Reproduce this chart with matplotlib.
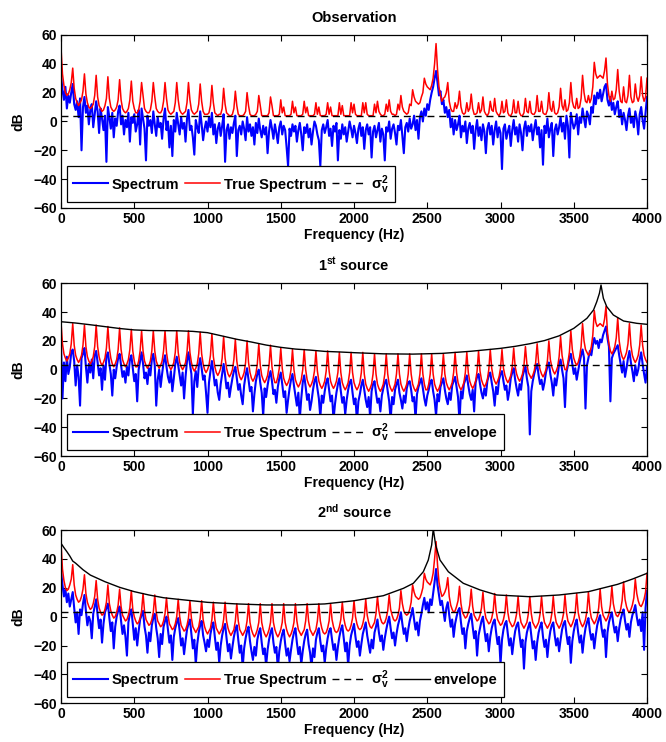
import numpy as np
import matplotlib

matplotlib.use("Agg")
import matplotlib.pyplot as plt

# spectra sampled every 10 Hz from 0 to 4000 Hz (401 bins)
N_BINS = 401
MAX_HZ = 4000
SIGMA_V2_DB = 3.5

obs_spectrum = [
    32, 22, 15, 24, 9, 18, 13, 20, 26, 12, 8, 14, 3, 16, -20, 10, 17, 6, 11, -2,
    8, 12, -4, 5, 14, 7, -8, 9, 2, -6, 4, -28, 10, 3, -5, 6, -11, 2, -3, 7,
    11, -2, 4, -9, 1, -4, 6, -14, 3, -1, 5, -7, -2, 8, -16, 9, 2, -5, -27, 4,
    -3, 1, -8, 7, -2, -10, 3, -4, -1, -12, 2, 9, -6, 0, -18, -3, -24, 1, -7, 6,
    -2, -9, 3, -5, -1, -14, 2, 8, -6, -3, -11, -23, 1, -4, -8, 7, -2, -13, -5, 0,
    -7, 3, -4, 6, -9, -2, -15, -5, -1, -10, -3, 5, -28, -6, -2, -12, -4, -8, -1, 4,
    -24, -6, -3, -9, 0, -5, -13, 3, -7, -2, -10, -4, -16, -1, -8, 2, -6, -11, -3, -9,
    -4, -22, -7, 1, -5, -12, -2, -8, -15, -4, 0, -9, -3, -6, -18, -31, -5, -10, -2, -7,
    -3, -14, -6, -1, -9, -20, -4, -8, -2, -11, -5, -16, -7, 0, -3, -9, -13, -31, -6, -2,
    -8, -4, 1, -10, -5, -17, -3, -7, -1, -27, -6, -12, -2, -9, -4, -14, -7, 0, -5, -11,
    -3, -8, -15, -5, -1, -10, -4, -19, -6, -2, -9, -4, -25, -7, -3, -11, -6, -1, -14, -5,
    -9, -27, -4, -7, 0, -12, -5, -2, -8, -16, -3, -6, 1, -10, -22, -4, -1, -7, 2, -5,
    -2, 4, -6, 1, -12, 3, 7, 0, 9, 4, 12, 8, 15, 20, 24, 30, 35, 27, 18, 21,
    12, 15, 6, 10, 3, 8, -4, 2, -9, 1, -6, -2, 4, -11, -3, -7, 0, -15, -5, -1,
    -8, -3, -19, -6, 1, -10, -4, -13, -2, -7, -22, -5, -1, -9, -3, -16, -6, 0, -11, -4,
    -8, -33, -5, -2, -12, -7, -3, -17, -6, 1, -9, -4, -14, -2, -8, -20, -5, 0, -10, -3,
    -7, -2, -13, -5, 1, -9, -4, -18, -6, -30, -3, -8, 2, -11, -5, -1, -24, -6, -2, -9,
    -4, 3, -7, -1, -12, 4, -3, -25, 6, 0, -5, -2, 5, -9, 3, -1, 9, 2, -4, 7,
    4, -2, 10, 6, 18, 12, 20, 16, 22, 14, 19, 24, 26, 15, 11, 17, 8, 13, 5, 10,
    14, 3, 8, -2, 6, 1, -6, 4, 9, -1, 3, -4, 7, 2, -9, 5, 10, 1, -5, 6,
    17,
]

obs_true = [
    51, 33, 25, 20, 18, 19, 22, 27,
    37, 23, 16, 13, 11, 13, 15, 21,
    33, 19, 13, 10, 9, 10, 12, 18,
    32, 17, 11, 9, 7, 8, 11, 16,
    31, 16, 10, 8, 7, 8, 10, 15,
    29, 15, 9, 7, 6, 7, 9, 15,
    28, 14, 9, 6, 6, 8, 14, 27,
    18, 9, 7, 6, 6, 8, 14, 27,
    17, 9, 7, 6, 6, 8, 14, 27,
    16, 8, 6, 5, 6, 7, 13, 27,
    15, 8, 6, 5, 6, 7, 13, 27,
    15, 8, 6, 5, 6, 7, 12, 26,
    14, 7, 5, 5, 5, 6, 11, 25,
    13, 6, 5, 4, 5, 5, 9, 23,
    12, 6, 5, 4, 4, 5, 9, 21,
    11, 5, 4, 4, 4, 5, 7, 20,
    11, 5, 4, 4, 4, 5, 7, 18,
    11, 4, 4, 4, 4, 4, 6, 17,
    11, 4, 4, 4, 4, 5, 15, 6,
    10, 4, 4, 4, 4, 5, 14, 6,
    10, 4, 4, 4, 4, 5, 14, 6,
    10, 4, 4, 4, 4, 5, 13, 5,
    10, 4, 4, 4, 4, 5, 13, 5,
    10, 4, 4, 4, 4, 4, 13, 5,
    11, 4, 4, 4, 4, 4, 13, 6,
    12, 5, 4, 4, 4, 4, 13, 6,
    13, 5, 4, 4, 4, 4, 12, 6,
    14, 7, 5, 4, 4, 5, 12, 7,
    15, 7, 5, 5, 4, 5, 12, 8,
    18, 10, 7, 6, 5, 6, 12, 11,
    22, 17, 14, 13, 12, 13, 17, 20,
    30, 26, 24, 23, 22, 25, 30, 40,
    54, 36, 24, 18, 14, 16, 17, 20,
    27, 14, 9, 7, 7, 13, 9, 12,
    21, 10, 6, 5, 6, 13, 7, 9,
    19, 9, 5, 5, 6, 13, 6, 8,
    17, 7, 5, 4, 6, 14, 8, 7,
    16, 7, 5, 4, 6, 14, 6, 7,
    15, 6, 4, 4, 6, 15, 6, 6,
    14, 6, 4, 4, 6, 16, 7, 6,
    14, 6, 5, 5, 7, 18, 7, 7,
    14, 6, 5, 5, 8, 20, 9, 7,
    14, 6, 5, 6, 10, 23, 11, 8,
    15, 7, 8, 13, 27, 14, 10, 9,
    16, 9, 10, 16, 32, 20, 14, 13,
    18, 13, 16, 24, 41, 33, 30, 31,
    32, 31, 30, 35, 44, 26, 18, 14,
    21, 15, 16, 22, 36, 21, 14, 13,
    24, 14, 13, 18, 32, 17, 13, 14,
    26, 17, 14, 18, 31, 18, 14, 17,
    30,
]

src1_spectrum = [
    17, -20, 5, -8, 9, -3, 2, 12, 14, 6, -11, 3, -5, -25, 8, 11, 15, 2, -9, 4,
    -2, 7, -6, 10, 13, 5, -4, 1, -14, 3, -7, 9, 12, 4, -3, -18, 0, -6, 2, 8,
    11, 3, -5, -1, -9, 2, -4, 7, 10, 1, -8, -3, -22, 0, 6, 12, 4, -6, -2, -10,
    1, -4, 7, 11, 3, -25, -7, 0, -12, -3, 5, 10, 2, -5, -9, -1, -15, -6, 4, 9,
    3, -4, -11, -2, -20, -5, 6, 12, 4, -3, -31, -8, -1, -12, 2, 8, 1, -7, -4, -16,
    -30, -9, -1, 6, -2, -11, -7, -16, -21, -10, -3, 4, -4, -13, -9, -19, -12, -6, -1, 2,
    -6, -14, -10, -18, -24, -11, -4, 1, -7, -15, -12, -29, -17, -8, -3, 0, -9, -16, -32, -13,
    -19, -11, -5, -1, -8, -17, -14, -23, -12, -6, -2, -10, -19, -15, -30, -21, -13, -7, -3, -11,
    -18, -25, -16, -34, -20, -9, -4, -12, -21, -17, -28, -22, -14, -8, -5, -13, -20, -33, -18, -23,
    -15, -9, -6, -14, -22, -18, -35, -24, -16, -10, -6, -15, -23, -19, -31, -21, -14, -9, -7, -16,
    -24, -20, -36, -22, -17, -11, -7, -14, -21, -26, -19, -33, -15, -10, -8, -16, -23, -20, -29, -18,
    -13, -9, -7, -15, -22, -35, -19, -24, -14, -10, -7, -16, -21, -27, -18, -23, -13, -9, -8, -14,
    -22, -19, -34, -17, -12, -9, -6, -13, -20, -25, -18, -14, -9, -7, -15, -21, -32, -17, -22, -12,
    -9, -6, -14, -20, -24, -16, -21, -11, -8, -5, -12, -19, -36, -15, -20, -10, -7, -4, -11, -17,
    -21, -14, -29, -9, -5, -3, -10, -16, -20, -13, -18, -8, -4, -2, -9, -15, -25, -12, -17, -7,
    -3, -1, -8, -14, -11, -21, -15, -6, -2, 1, -7, -13, -18, -10, -14, -5, -1, 2, -6, -12,
    -45, -15, -8, -3, 1, 4, -4, -10, -7, -14, -9, -2, 2, 5, -3, -9, -18, -6, -11, -4,
    4, 7, 0, -6, -26, -2, 3, 8, 11, 4, -3, 1, -7, -1, 5, 10, 14, 8, -27, 3,
    8, 13, 10, 17, 22, 18, 20, 15, 21, 19, 24, 27, 30, 22, 16, -22, 8, 11, 13, 15,
    17, 10, 4, -2, 6, -5, 1, 8, 13, 5, -1, -8, 3, -4, 0, 7, 12, 4, -3, -9,
    2,
]

src1_true = [
    33, 18, 11, 8, 6, 8, 11, 18,
    32, 17, 10, 7, 5, 7, 10, 17,
    31, 16, 9, 6, 4, 6, 9, 16,
    31, 16, 9, 5, 3, 5, 8, 15,
    30, 15, 8, 4, 2, 4, 7, 14,
    29, 14, 7, 4, 2, 4, 7, 14,
    28, 13, 6, 2, 2, 6, 13,
    27, 13, 6, 3, 1, 3, 6, 13,
    27, 13, 6, 3, 1, 3, 6, 13,
    27, 12, 5, 2, 0, 2, 5, 12,
    27, 12, 5, 2, 0, 2, 5, 12,
    27, 12, 5, 1, -1, 1, 4, 11,
    26, 11, 4, 0, -2, 0, 3, 10,
    25, 9, 2, -2, -4, -2, 1, 8,
    23, 8, 1, -3, -5, -3, 0, 7,
    21, 6, -1, -5, -7, -5, -2, 5,
    20, 5, -2, -6, -8, -6, -3, 4,
    18, 3, -4, -7, -9, -7, -4, 3,
    17, 2, -5, -9, -9, -5, 1,
    15, 1, -6, -9, -11, -9, -6, 0,
    14, 0, -7, -10, -12, -10, -7, 0,
    14, 0, -7, -10, -12, -10, -7, -1,
    13, -1, -8, -11, -13, -11, -8, -1,
    13, -1, -8, -11, -13, -11, -8, -2,
    12, -2, -9, -12, -14, -12, -9, -2,
    12, -2, -9, -12, -14, -12, -9, -2,
    12, -3, -10, -13, -15, -13, -10, -3,
    11, -3, -10, -13, -15, -13, -10, -3,
    11, -3, -10, -13, -15, -13, -10, -3,
    11, -3, -10, -13, -15, -13, -10, -3,
    11, -3, -10, -13, -15, -13, -10, -3,
    11, -3, -10, -14, -14, -10, -3,
    11, -3, -10, -13, -15, -13, -10, -3,
    11, -3, -9, -12, -14, -12, -9, -2,
    12, -2, -9, -12, -14, -12, -9, -2,
    12, -2, -8, -11, -13, -11, -8, -1,
    13, -1, -7, -10, -12, -10, -7, 0,
    14, 1, -5, -8, -10, -8, -5, 1,
    14, 1, -4, -7, -9, -7, -4, 2,
    15, 2, -3, -6, -8, -6, -3, 3,
    16, 4, -2, -4, -6, -4, -1, 5,
    18, 5, 0, -3, -5, -3, 0, 6,
    20, 7, 2, -1, -3, -1, 2, 9,
    23, 10, 4, 0, 0, 5, 12,
    27, 14, 8, 5, 3, 5, 9, 16,
    32, 20, 14, 12, 10, 12, 16, 24,
    41, 33, 30, 31, 32, 31, 30, 35,
    44, 26, 18, 13, 11, 13, 16, 22,
    36, 20, 13, 9, 7, 9, 12, 18,
    32, 17, 10, 7, 5, 7, 10, 17,
    31, 17, 10, 7, 5,
]

src2_spectrum = [
    32, 22, 14, 19, 10, 16, 7, 12, 17, 6, -4, 3, -12, 5, 1, 9, 15, 4, -6, 0,
    -3, -15, 2, 7, 12, 1, -8, -2, -18, -5, 3, 6, 9, -1, -10, -4, -22, -7, 0, 4,
    7, -3, -12, -6, -14, -27, -4, 2, 5, -5, -16, -8, -20, -10, -2, 1, 4, -7, -13, -25,
    -11, -17, -6, -1, 2, -8, -15, -28, -12, -19, -7, -3, 0, -9, -18, -13, -30, -14, -8, -4,
    -1, -10, -20, -15, -26, -17, -9, -5, -2, -12, -22, -16, -33, -19, -11, -6, -3, -13, -18, -24,
    -16, -21, -12, -7, -4, -14, -23, -18, -32, -20, -13, -8, -5, -15, -24, -19, -29, -21, -14, -9,
    -6, -16, -25, -20, -35, -22, -15, -10, -7, -17, -24, -30, -21, -27, -16, -11, -8, -18, -26, -22,
    -34, -23, -16, -11, -8, -18, -25, -21, -36, -24, -17, -12, -9, -19, -27, -22, -31, -23, -16, -11,
    -8, -18, -26, -21, -33, -24, -17, -12, -9, -19, -25, -35, -22, -28, -16, -11, -8, -17, -24, -20,
    -32, -22, -15, -10, -8, -16, -23, -19, -30, -21, -14, -9, -6, -15, -24, -18, -34, -20, -13, -9,
    -5, -14, -21, -17, -27, -19, -12, -8, -4, -13, -19, -25, -16, -22, -11, -7, -2, -11, -17, -13,
    -23, -15, -9, -4, 0, -8, -15, -11, -20, -12, -6, -2, 3, -5, -12, -8, -17, -9, -3, 1,
    6, -2, -9, -4, -13, -3, 2, 8, 13, 5, 10, 3, 12, 8, 16, 24, 33, 22, 15, 8,
    11, 4, -3, 6, 10, 1, -7, -2, -14, -5, 0, 4, 6, -4, -12, -8, -22, -10, -5, -1,
    2, -7, -15, -10, -27, -13, -8, -3, 0, -9, -17, -12, -24, -14, -8, -4, -2, -11, -19, -14,
    -33, -16, -9, -5, -3, -12, -20, -15, -26, -17, -10, -6, -4, -13, -21, -16, -36, -18, -11, -7,
    -4, -13, -22, -17, -30, -18, -11, -7, -4, -14, -21, -16, -28, -17, -10, -6, -4, -13, -20, -15,
    -24, -16, -9, -5, -3, -12, -19, -14, -32, -17, -10, -5, -2, -11, -18, -13, -25, -15, -8, -4,
    -1, -10, -16, -12, -22, -13, -6, -2, 1, -8, -14, -9, -28, -11, -4, 0, 3, -5, -11, -7,
    -17, -8, -2, 2, 5, -3, -9, -5, -14, -4, 1, 4, 8, 0, -6, -2, -10, 3, -23, 6,
    18,
]

src2_true = [
    51, 33, 25, 20, 18, 19, 22, 26,
    36, 22, 15, 12, 10, 11, 14, 19,
    29, 16, 10, 7, 5, 6, 9, 14,
    25, 12, 6, 3, 1, 2, 5, 10,
    22, 9, 4, 1, -1, 0, 3, 8,
    19, 7, 1, -1, -3, -2, 1, 6,
    18, 5, 0, -3, -5, -4, -1, 4,
    16, 4, -2, -4, -6, -5, -2, 3,
    15, 3, -3, -5, -7, -6, -3, 2,
    13, 1, -5, -7, -9, -8, -5, 0,
    12, 0, -6, -8, -10, -9, -6, -1,
    11, -1, -7, -9, -11, -9, -7, -1,
    11, -2, -7, -10, -12, -10, -8, -2,
    10, -2, -8, -10, -12, -10, -8, -2,
    10, -3, -8, -11, -13, -11, -9, -3,
    9, -3, -9, -11, -13, -11, -9, -3,
    9, -4, -9, -12, -14, -12, -9, -4,
    9, -4, -9, -12, -14, -12, -9, -4,
    9, -4, -9, -12, -14, -12, -9, -4,
    9, -4, -9, -12, -14, -12, -9, -4,
    9, -3, -9, -11, -13, -11, -9, -3,
    9, -3, -9, -11, -13, -11, -9, -3,
    9, -3, -8, -11, -12, -11, -8, -3,
    9, -2, -7, -10, -11, -10, -7, -2,
    10, -1, -6, -9, -10, -9, -6, -1,
    11, 0, -5, -8, -9, -8, -5, 0,
    12, 1, -4, -7, -8, -6, -4, 2,
    14, 4, -1, -4, -5, -4, -1, 4,
    15, 5, 1, -2, -3, -2, 1, 6,
    18, 9, 4, 2, 1, 2, 5, 10,
    22, 17, 14, 13, 12, 13, 16, 20,
    30, 26, 24, 23, 22, 25, 30, 40,
    52, 36, 24, 18, 14, 15, 17, 20,
    27, 14, 8, 5, 3, 4, 7, 11,
    21, 9, 3, 1, -1, 0, 3, 8,
    19, 7, 1, -1, -3, -2, 1, 6,
    17, 5, -1, -3, -5, -4, -1, 4,
    16, 4, -2, -4, -6, -5, -2, 3,
    15, 3, -3, -5, -7, -6, -3, 2,
    14, 2, -4, -6, -8, -6, -4, 2,
    14, 2, -4, -6, -8, -6, -4, 2,
    14, 2, -4, -6, -8, -6, -4, 2,
    14, 2, -4, -6, -8, -6, -3, 2,
    15, 3, -3, -5, -7, -5, -2, 3,
    16, 3, -2, -5, -7, -5, -2, 4,
    17, 5, -1, -3, -5, -3, 0, 6,
    19, 7, 1, -1, -3, -1, 2, 8,
    21, 9, 4, 1, 0, 2, 5, 11,
    24, 12, 7, 4, 3, 5, 8, 13,
    26, 16, 11, 8, 7, 9, 12, 17,
    30,
]

env1_hz = [0, 100, 200, 300, 400, 500, 600, 700, 800, 900, 1000, 1100, 1200,
           1300, 1400, 1500, 1600, 1700, 1800, 1900, 2000, 2200, 2400, 2600,
           2800, 3000, 3100, 3200, 3300, 3400, 3500, 3590, 3635, 3657, 3675,
           3686, 3702, 3725, 3770, 3840, 3930, 4000]
env1_db = [33.3, 32.4, 31.2, 29.9, 28.6, 27.6, 27.2, 27.1, 27.0, 26.6, 25.7,
           23.4, 21.1, 19.2, 17.1, 15.5, 14.3, 13.6, 12.7, 12.3, 11.8, 11.0,
           10.8, 11.3, 12.8, 14.8, 16.2, 18.0, 20.2, 23.5, 28.7, 35.7, 41.5,
           47.2, 53.0, 58.8, 49.6, 43.8, 38.0, 33.8, 32.2, 31.5]

env2_hz = [0, 20, 40, 60, 80, 100, 150, 200, 300, 400, 500, 600, 700, 800,
           1000, 1200, 1400, 1600, 1800, 2000, 2200, 2337, 2405, 2473, 2507,
           2530, 2541, 2557, 2587, 2644, 2746, 2860, 2974, 3200, 3400, 3600,
           3800, 3900, 4000]
env2_db = [50.8, 47.8, 45.0, 42.0, 38.5, 37.0, 32.5, 28.8, 24.2, 20.3, 17.3,
           15.0, 13.1, 12.0, 9.9, 8.8, 8.1, 8.1, 8.8, 11.0, 14.5, 19.6, 23.1,
           31.1, 39.2, 49.6, 61.0, 49.6, 39.2, 31.1, 23.1, 18.5, 15.0, 13.8,
           15.0, 17.3, 22.4, 26.0, 30.0]

# figure-fraction rectangles
PANEL_RECTS = [
    [0.0916, 0.7197, 0.8799, 0.2332],
    [0.0916, 0.3854, 0.8799, 0.2328],
    [0.0916, 0.0522, 0.8799, 0.2335],
]


def check_lengths() -> None:
    named = {
        "obs_spectrum": obs_spectrum,
        "obs_true": obs_true,
        "src1_spectrum": src1_spectrum,
        "src1_true": src1_true,
        "src2_spectrum": src2_spectrum,
        "src2_true": src2_true,
    }
    for name, values in named.items():
        if len(values) != N_BINS:
            raise ValueError(f"{name} has {len(values)} bins, expected {N_BINS}")


def draw_panel(ax, title, spectrum, true_spectrum, env_hz=None, env_db=None) -> None:
    freqs = np.linspace(0, MAX_HZ, N_BINS)

    ax.plot(freqs, spectrum, color="#0000ff", lw=1.5, label="Spectrum")
    ax.plot(freqs, true_spectrum, color="#ff0000", lw=1.1, label="True Spectrum")
    ax.plot(freqs, np.full(N_BINS, SIGMA_V2_DB), color="black", lw=1.0,
            ls=(0, (5, 3.5)), label=r"$\sigma_v^2$")
    if env_hz is not None:
        ax.plot(env_hz, env_db, color="black", lw=1.0, label="envelope")

    ax.set_xlim(0, MAX_HZ)
    ax.set_ylim(-60, 60)
    ax.set_xticks(np.arange(0, MAX_HZ + 1, 500))
    ax.set_yticks(np.arange(-60, 61, 20))
    ax.tick_params(direction="in", top=True, right=True, length=4, width=0.8,
                   labelsize=10, pad=3)
    for spine in ax.spines.values():
        spine.set_linewidth(0.9)

    ax.set_title(title, fontsize=10.5, fontweight="bold", pad=9)
    ax.set_xlabel("Frequency (Hz)", fontsize=10, fontweight="bold", labelpad=1)
    ax.set_ylabel("dB", fontsize=10, fontweight="bold", labelpad=6)

    ncol = 4 if env_hz is not None else 3
    leg = ax.legend(loc="lower left", ncol=ncol, fontsize=10.5, frameon=True,
                    fancybox=False, framealpha=1.0, edgecolor="black",
                    handlelength=2.4, handletextpad=0.25, columnspacing=0.4,
                    borderpad=0.45, borderaxespad=0.4)
    leg.get_frame().set_linewidth(0.9)


def main() -> None:
    check_lengths()

    plt.rcParams["font.family"] = ["Liberation Sans", "DejaVu Sans"]
    plt.rcParams["font.weight"] = "bold"
    plt.rcParams["mathtext.default"] = "regular"

    fig = plt.figure(figsize=(6.66, 7.42), dpi=100)
    axes = [fig.add_axes(rect) for rect in PANEL_RECTS]

    draw_panel(axes[0], "Observation", obs_spectrum, obs_true)
    draw_panel(axes[1], r"1$^{st}$ source", src1_spectrum, src1_true, env1_hz, env1_db)
    draw_panel(axes[2], r"2$^{nd}$ source", src2_spectrum, src2_true, env2_hz, env2_db)

    fig.savefig("out.png", dpi=100)
    plt.close(fig)


if __name__ == "__main__":
    main()
